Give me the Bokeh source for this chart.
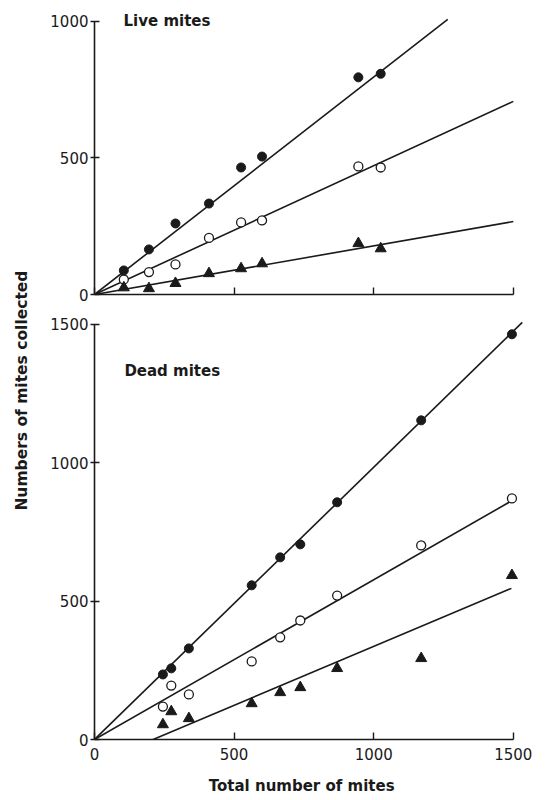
import math
from bokeh.plotting import figure
from bokeh.layouts import row, column
from bokeh.models import Range1d, FixedTicker, Label
from bokeh.embed import file_html
from bokeh.resources import INLINE

# ---- data ----
live_total = [105, 195, 290, 410, 525, 600, 945, 1025]
live_filled = [88, 165, 260, 333, 465, 505, 795, 808]
live_open = [55, 82, 110, 207, 264, 271, 469, 465]
live_tri = [25, 22, 41, 77, 95, 113, 187, 168]

live_fit_filled_x = [0, 1265]
live_fit_filled_y = [0, 1007]
live_fit_open_x = [0, 1500]
live_fit_open_y = [0, 707]
live_fit_tri_x = [0, 1500]
live_fit_tri_y = [0, 267]

dead_total = [245, 275, 338, 563, 665, 737, 869, 1170, 1495]
dead_filled = [235, 257, 329, 557, 658, 705, 857, 1153, 1464]
dead_open = [119, 195, 163, 282, 369, 430, 520, 701, 871]
dead_tri = [54, 101, 76, 130, 170, 188, 257, 293, 593]

dead_fit_filled_x = [0, 1532]
dead_fit_filled_y = [0, 1507]
dead_fit_open_x = [0, 1497]
dead_fit_open_y = [0, 864]
dead_fit_tri_x = [210, 1493]
dead_fit_tri_y = [0, 546]

x_ticks = [0, 500, 1000, 1500]
live_y_ticks = [0, 500, 1000]
dead_y_ticks = [0, 500, 1000, 1500]

INK = "#1a1a1a"
TICK_FONT = "DejaVu Sans"
BOLD_FONT = "DejaVu Sans"


def style(p, yticks, ybounds, show_xlabels):
    for r in (p.xaxis, p.yaxis):
        r.axis_line_color = INK
        r.axis_line_width = 1.6
        r.major_tick_line_color = INK
        r.major_tick_line_width = 1.4
        r.minor_tick_line_color = None
        r.major_label_text_font = TICK_FONT
        r.major_label_text_font_size = "15px"
        r.major_label_text_color = INK
    p.xaxis.ticker = FixedTicker(ticks=x_ticks)
    p.xaxis.bounds = (0, 1500)
    p.xaxis.major_tick_in = 7
    p.xaxis.major_tick_out = 0
    p.xaxis.major_label_standoff = 8
    if not show_xlabels:
        p.xaxis.major_label_overrides = {t: "" for t in x_ticks}
    p.yaxis.ticker = FixedTicker(ticks=yticks)
    p.yaxis.bounds = ybounds
    p.yaxis.major_tick_in = 5
    p.yaxis.major_tick_out = 4
    p.yaxis.major_label_standoff = 2
    p.grid.visible = False
    p.outline_line_color = None
    p.background_fill_color = "white"
    p.border_fill_color = "white"


def draw(p, xs, filled, opn, tri, fits):
    for fx, fy in fits:
        p.line(fx, fy, line_color=INK, line_width=1.6)
    p.scatter(xs, filled, marker="circle", size=9, fill_color=INK, line_color=INK)
    p.scatter(xs, opn, marker="circle", size=9, fill_color="white",
              line_color=INK, line_width=1.3)
    p.scatter(xs, tri, marker="triangle", size=11, fill_color=INK, line_color=INK)


# ---- top panel: live mites ----
top = figure(width=496, height=310, output_backend="svg", toolbar_location=None,
             x_range=Range1d(0, 1540), y_range=Range1d(0, 1058),
             min_border_left=52, min_border_right=14,
             min_border_top=5, min_border_bottom=16)
style(top, live_y_ticks, (0, 1000), False)
draw(top, live_total, live_filled, live_open, live_tri,
     [(live_fit_filled_x, live_fit_filled_y),
      (live_fit_open_x, live_fit_open_y),
      (live_fit_tri_x, live_fit_tri_y)])
top.add_layout(Label(x=104, y=1002, text="Live  mites", text_font=BOLD_FONT,
                     text_font_style="bold", text_font_size="15px", text_color=INK,
                     text_baseline="alphabetic", text_align="left"))

# ---- bottom panel: dead mites ----
bot = figure(width=496, height=490, output_backend="svg", toolbar_location=None,
             x_range=Range1d(0, 1540), y_range=Range1d(0, 1521),
             min_border_left=52, min_border_right=14,
             min_border_top=8, min_border_bottom=61)
style(bot, dead_y_ticks, (0, 1500), True)
draw(bot, dead_total, dead_filled, dead_open, dead_tri,
     [(dead_fit_filled_x, dead_fit_filled_y),
      (dead_fit_open_x, dead_fit_open_y),
      (dead_fit_tri_x, dead_fit_tri_y)])
bot.add_layout(Label(x=107, y=1333, text="Dead  mites", text_font=BOLD_FONT,
                     text_font_style="bold", text_font_size="15px", text_color=INK,
                     text_baseline="alphabetic", text_align="left"))
bot.xaxis.axis_label = "Total  number  of  mites"
bot.xaxis.axis_label_text_font = BOLD_FONT
bot.xaxis.axis_label_text_font_style = "bold"
bot.xaxis.axis_label_text_font_size = "15px"
bot.xaxis.axis_label_text_color = INK
bot.xaxis.axis_label_standoff = 14

# ---- shared y-axis title ----
lab = figure(width=42, height=800, output_backend="svg", toolbar_location=None,
             x_range=Range1d(0, 42), y_range=Range1d(0, 800),
             min_border=0)
lab.axis.visible = False
lab.grid.visible = False
lab.outline_line_color = None
lab.add_layout(Label(x=21, y=418, x_units="screen", y_units="screen",
                     text="Numbers  of  mites  collected", text_font=BOLD_FONT,
                     text_font_style="bold", text_font_size="15.5px", text_color=INK,
                     angle=math.pi / 2, text_align="center", text_baseline="middle"))

layout = row(lab, column(top, bot))
open("out.html", "w").write(file_html(layout, INLINE))
